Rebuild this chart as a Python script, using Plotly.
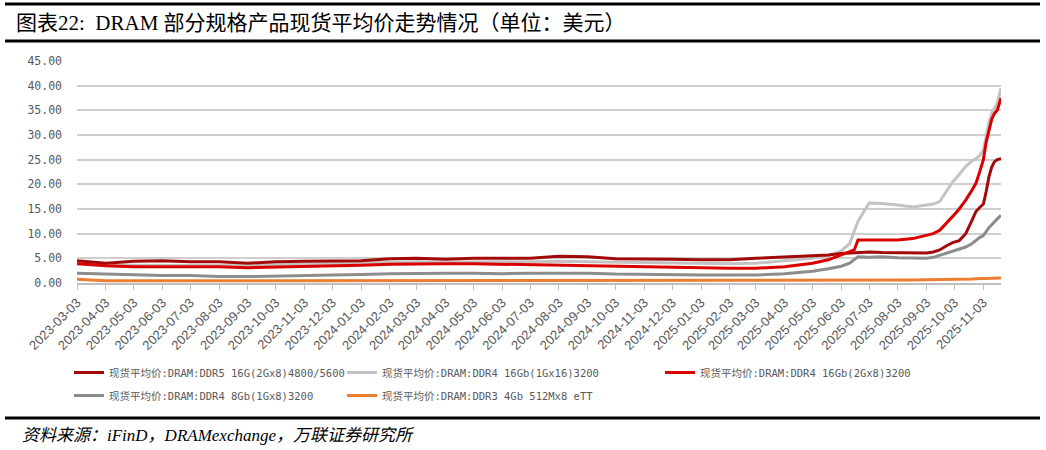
import plotly.graph_objects as go

dates = [
    "2023-03-03", "2023-04-03", "2023-05-03", "2023-06-03", "2023-07-03", "2023-08-03",
    "2023-09-03", "2023-10-03", "2023-11-03", "2023-12-03", "2024-01-03", "2024-02-03",
    "2024-03-03", "2024-04-03", "2024-05-03", "2024-06-03", "2024-07-03", "2024-08-03",
    "2024-09-03", "2024-10-03", "2024-11-03", "2024-12-03", "2025-01-03", "2025-02-03",
    "2025-03-03", "2025-04-03", "2025-05-03", "2025-05-20", "2025-06-03", "2025-06-12",
    "2025-06-17", "2025-06-21", "2025-07-03", "2025-07-17", "2025-08-03", "2025-08-19",
    "2025-09-03", "2025-09-10", "2025-09-17", "2025-09-24", "2025-10-01", "2025-10-08",
    "2025-10-15", "2025-10-22", "2025-10-26", "2025-10-30", "2025-11-03", "2025-11-06",
    "2025-11-09", "2025-11-12", "2025-11-15", "2025-11-18", "2025-11-22",
]

ddr5_16g = [
    4.5, 4.0, 4.4, 4.5, 4.3, 4.3, 4.0, 4.3, 4.4, 4.5, 4.5, 4.9,
    5.0, 4.8, 5.0, 5.0, 5.0, 5.4, 5.3, 4.9, 4.9, 4.8, 4.7, 4.7,
    5.0, 5.3, 5.5, 5.7, 6.0, 6.1, 6.2, 6.3, 6.3, 6.2, 6.2, 6.2,
    6.1, 6.3, 6.7, 7.5, 8.2, 8.6, 10.0, 12.8, 14.5, 15.3, 16.0, 18.5,
    21.5, 23.5, 24.6, 25.0, 25.2,
]

ddr4_16gb_1gx16 = [
    4.0, 3.7, 3.6, 3.6, 3.6, 3.6, 3.5, 3.7, 3.8, 3.9, 4.0, 4.2,
    4.3, 4.2, 4.3, 4.3, 4.3, 4.4, 4.3, 4.2, 4.1, 4.0, 3.9, 3.9,
    4.0, 4.5, 5.0, 5.5, 6.5, 8.0, 10.5, 12.5, 16.2, 16.1, 15.8, 15.4,
    15.8, 16.0, 16.5, 18.5, 20.5, 22.0, 23.6, 24.8, 25.2, 25.8, 27.0, 29.7,
    32.5, 34.4, 35.5, 36.5, 39.5,
]

ddr4_16gb_2gx8 = [
    3.9, 3.5, 3.3, 3.3, 3.3, 3.3, 3.1, 3.2, 3.3, 3.4, 3.6, 3.8,
    3.9, 3.9, 3.9, 3.8, 3.6, 3.6, 3.5, 3.4, 3.3, 3.2, 3.1, 3.0,
    3.0, 3.3, 4.0, 4.7, 5.7, 6.3, 6.7, 8.7, 8.7, 8.6, 8.7, 9.0,
    9.7, 10.0, 10.7, 12.0, 13.5, 15.0, 16.8, 18.9, 20.2, 22.5, 25.0, 28.5,
    31.0, 33.2, 34.4, 35.0, 37.5,
]

ddr4_8gb = [
    2.0, 1.8, 1.6, 1.5, 1.5, 1.3, 1.3, 1.4, 1.5, 1.5, 1.7, 1.9,
    2.0, 2.0, 2.0, 1.9, 2.0, 2.0, 2.0, 1.8, 1.7, 1.6, 1.6, 1.6,
    1.6, 1.9, 2.4, 2.9, 3.4, 4.0, 4.8, 5.3, 5.2, 5.3, 5.1, 5.0,
    5.0, 5.2, 5.6, 6.0, 6.4, 6.8, 7.3, 8.0, 8.7, 9.2, 9.6, 10.5,
    11.2, 11.8, 12.5, 13.0, 13.7,
]

ddr3_4gb = [
    0.75, 0.45, 0.45, 0.45, 0.45, 0.45, 0.45, 0.45, 0.45, 0.45, 0.45, 0.45,
    0.45, 0.45, 0.45, 0.45, 0.45, 0.5, 0.5, 0.45, 0.45, 0.45, 0.45, 0.45,
    0.45, 0.5, 0.5, 0.5, 0.5, 0.5, 0.5, 0.5, 0.55, 0.55, 0.6, 0.6,
    0.65, 0.65, 0.7, 0.7, 0.75, 0.75, 0.8, 0.8, 0.85, 0.85, 0.9, 0.9,
    0.95, 0.95, 1.0, 1.0, 1.0,
]

names = [
    "现货平均价:DRAM:DDR5 16G(2Gx8)4800/5600",
    "现货平均价:DRAM:DDR4 16Gb(1Gx16)3200",
    "现货平均价:DRAM:DDR4 16Gb(2Gx8)3200",
    "现货平均价:DRAM:DDR4 8Gb(1Gx8)3200",
    "现货平均价:DRAM:DDR3 4Gb 512Mx8 eTT",
]

tick_dates = [
    "2023-03-03", "2023-04-03", "2023-05-03", "2023-06-03", "2023-07-03", "2023-08-03",
    "2023-09-03", "2023-10-03", "2023-11-03", "2023-12-03", "2024-01-03", "2024-02-03",
    "2024-03-03", "2024-04-03", "2024-05-03", "2024-06-03", "2024-07-03", "2024-08-03",
    "2024-09-03", "2024-10-03", "2024-11-03", "2024-12-03", "2025-01-03", "2025-02-03",
    "2025-03-03", "2025-04-03", "2025-05-03", "2025-06-03", "2025-07-03", "2025-08-03",
    "2025-09-03", "2025-10-03", "2025-11-03",
]

title_text = "图表22:  DRAM 部分规格产品现货平均价走势情况（单位：美元）"
source_text = "资料来源：iFinD，DRAMexchange，万联证券研究所"

W, H = 1046, 450
L, R, T, B = 77, 45, 61, 167
PW, PH = W - L - R, H - T - B


def px_x(p):
    return (p - L) / PW


def px_y(p):
    return 1 - (p - T) / PH


fig = go.Figure()

# drawing order: bottom to top
specs = [
    (ddr3_4gb, names[4], "#ED7D31", "legend2", 5),
    (ddr4_8gb, names[3], "#8C8C8C", "legend", 4),
    (ddr4_16gb_1gx16, names[1], "#C3C3C3", "legend2", 2),
    (ddr5_16g, names[0], "#A20A0A", "legend", 1),
    (ddr4_16gb_2gx8, names[2], "#DA0000", "legend3", 3),
]
for vals, nm, col, lg, rank in specs:
    fig.add_trace(go.Scatter(
        x=dates, y=vals, name=nm, mode="lines",
        line=dict(color=col, width=3),
        legend=lg, legendrank=rank, legendgroup=nm,
        hoverinfo="skip",
    ))

legend_font = dict(family="DejaVu Sans Mono, Noto Sans CJK SC", size=10.5, color="#595959")
common_leg = dict(
    orientation="v", xref="container", yref="container", xanchor="left", yanchor="top",
    font=legend_font, bgcolor="rgba(0,0,0,0)", borderwidth=0, tracegroupgap=4,
    itemwidth=30,
)

fig.update_layout(
    width=W, height=H,
    margin=dict(l=L, r=R, t=T, b=B, autoexpand=False),
    paper_bgcolor="white", plot_bgcolor="white",
    showlegend=True,
    legend=dict(x=69 / W, y=1 - 358 / H, **common_leg),
    legend2=dict(x=342 / W, y=1 - 358 / H, **common_leg),
    legend3=dict(x=660 / W, y=1 - 358 / H, **common_leg),
    xaxis=dict(
        type="date",
        range=["2023-03-03", "2025-11-22"],
        tickvals=tick_dates, ticktext=tick_dates,
        tickangle=-45, automargin=False,
        tickfont=dict(family="Liberation Sans, Arial", size=13, color="#595959"),
        ticks="outside", ticklen=5, tickcolor="#BFBFBF", tickwidth=1,
        showgrid=False, showline=True, linecolor="#BFBFBF", linewidth=2,
        zeroline=False,
    ),
    yaxis=dict(
        range=[0, 45], dtick=5, tick0=0, tickformat=".2f", automargin=False,
        tickfont=dict(family="DejaVu Sans Mono", size=11.5, color="#595959"),
        showgrid=True, gridcolor="#CFCFCF", gridwidth=1.5,
        zeroline=False, showline=False, ticks="", ticklabelstandoff=14,
    ),
    font=dict(family="Liberation Sans, Noto Sans CJK SC"),
)

# header / footer rules
for py, lw in [(4, 3), (41, 3), (418, 3)]:
    fig.add_shape(type="line", xref="paper", yref="paper",
                  x0=px_x(5), x1=px_x(1040), y0=px_y(py), y1=px_y(py),
                  line=dict(color="black", width=lw))

fig.add_annotation(
    text=title_text, xref="paper", yref="paper",
    x=px_x(14), y=px_y(23), xanchor="left", yanchor="middle", showarrow=False,
    font=dict(family="Liberation Serif, Noto Sans CJK SC", size=21, color="black"),
)
fig.add_annotation(
    text=source_text, xref="paper", yref="paper",
    x=px_x(20), y=px_y(435), xanchor="left", yanchor="middle", showarrow=False,
    font=dict(family="Liberation Serif, Noto Sans CJK SC", size=17, color="black", style="italic"),
)

fig.write_html("out.html")
